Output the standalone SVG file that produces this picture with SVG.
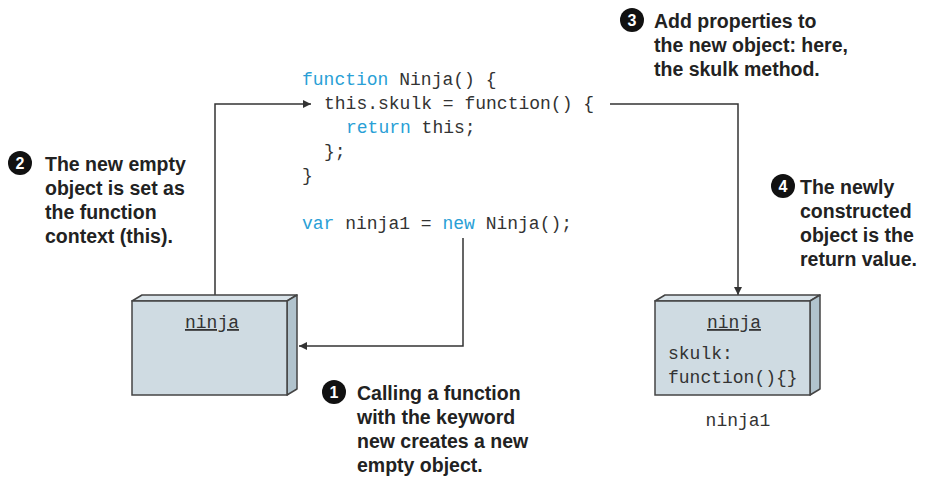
<svg xmlns="http://www.w3.org/2000/svg" width="925" height="484" viewBox="0 0 925 484">
<style>
.code{font-family:"Liberation Mono",monospace;font-size:18px;fill:#333}
.kw{fill:#2a9fd6}
.note{font-family:"Liberation Sans",Arial,sans-serif;font-weight:bold;font-size:19.5px;fill:#222}
.num{font-family:"Liberation Sans",Arial,sans-serif;font-weight:bold;font-size:16px;fill:#fff;text-anchor:middle}
.front{fill:#cfdbe2;stroke:#444;stroke-width:1.5}
.side{fill:#b1c3cd;stroke:#444;stroke-width:1.5;stroke-linejoin:round}
.top{fill:#d8e2e8;stroke:#444;stroke-width:1.5;stroke-linejoin:round}
.conn{fill:none;stroke:#333;stroke-width:1.5}
</style>
<defs>
<marker id="arr" viewBox="0 0 10 10" refX="10" refY="5" markerWidth="10" markerHeight="8" markerUnits="userSpaceOnUse" orient="auto">
<path d="M0,0 L10,5 L0,10 z" fill="#333"/>
</marker>
</defs>

<g id="code">
<text class="code" x="302" y="85"><tspan class="kw">function</tspan> Ninja() {</text>
<text class="code" x="324" y="109">this.skulk = function() {</text>
<text class="code" x="346" y="133"><tspan class="kw">return</tspan> this;</text>
<text class="code" x="324" y="157">};</text>
<text class="code" x="302" y="181">}</text>
<text class="code" x="302" y="229"><tspan class="kw">var</tspan> ninja1 = <tspan class="kw">new</tspan> Ninja();</text>
</g>

<g id="connectors">
<polyline class="conn" points="215,301 215,104 311,104" marker-end="url(#arr)"/>
<polyline class="conn" points="463,238 463,346 299,346" marker-end="url(#arr)"/>
<polyline class="conn" points="610,104 738,104 738,295" marker-end="url(#arr)"/>
</g>

<g id="node-ninja">
<polygon class="top" points="132,301 142,295 297,295 287,301"/>
<polygon class="side" points="287,301 297,295 297,389 287,395"/>
<rect class="front" x="132" y="301" width="155" height="94"/>
<text class="code" x="212" y="328" text-anchor="middle" text-decoration="underline">ninja</text>
</g>

<g id="node-ninja1">
<polygon class="top" points="655,301 665,295 820,295 810,301"/>
<polygon class="side" points="810,301 820,295 820,389 810,395"/>
<rect class="front" x="655" y="301" width="155" height="94"/>
<text class="code" x="734" y="328" text-anchor="middle" text-decoration="underline">ninja</text>
<text class="code" x="668" y="359">skulk:</text>
<text class="code" x="668" y="383">function(){}</text>
<text class="code" x="738" y="426" text-anchor="middle">ninja1</text>
</g>

<g id="note1">
<circle cx="334" cy="392" r="12" fill="#111"/>
<text class="num" x="334" y="398">1</text>
<text class="note" x="357" y="400">Calling a function</text>
<text class="note" x="357" y="424">with the keyword</text>
<text class="note" x="357" y="448">new creates a new</text>
<text class="note" x="357" y="472">empty object.</text>
</g>

<g id="note2">
<circle cx="20" cy="163" r="12" fill="#111"/>
<text class="num" x="20" y="169">2</text>
<text class="note" x="45" y="171">The new empty</text>
<text class="note" x="45" y="195">object is set as</text>
<text class="note" x="45" y="219">the function</text>
<text class="note" x="45" y="243">context (this).</text>
</g>

<g id="note3">
<circle cx="632" cy="20" r="12" fill="#111"/>
<text class="num" x="632" y="26">3</text>
<text class="note" x="654" y="28">Add properties to</text>
<text class="note" x="654" y="52">the new object: here,</text>
<text class="note" x="654" y="76">the skulk method.</text>
</g>

<g id="note4">
<circle cx="783" cy="186" r="12" fill="#111"/>
<text class="num" x="783" y="192">4</text>
<text class="note" x="800" y="194">The newly</text>
<text class="note" x="800" y="218">constructed</text>
<text class="note" x="800" y="242">object is the</text>
<text class="note" x="800" y="266">return value.</text>
</g>
</svg>
